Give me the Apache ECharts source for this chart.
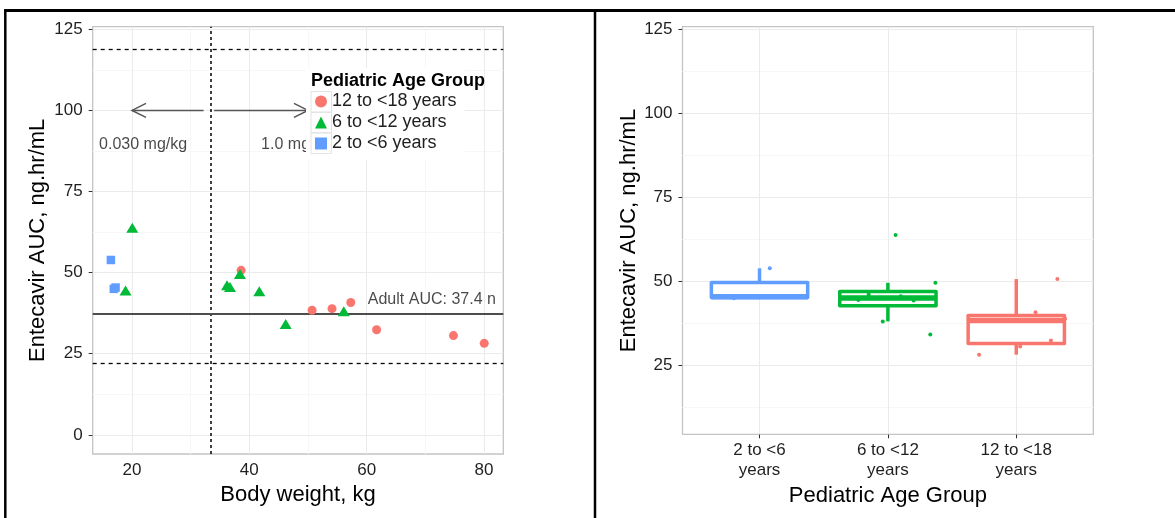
<!DOCTYPE html>
<html>
<head>
<meta charset="utf-8">
<script src="https://cdn.jsdelivr.net/npm/echarts@6/dist/echarts.min.js"></script>
<style>
  html, body { margin: 0; padding: 0; background: #fff; }
  #chart { width: 1175px; height: 518px; }
</style>
</head>
<body>
<div id="chart"></div>
<script>
// Entecavir AUC in pediatric subjects: by body weight (left) and by age group (right)

const groupNames = ['2 to <6 years', '6 to <12 years', '12 to <18 years'];
const groupAxisLabels = ['2 to <6\nyears', '6 to <12\nyears', '12 to <18\nyears'];
const groupColors = ['#619CFF', '#00BA38', '#F8766D'];
const groupSymbols = ['rect', 'triangle', 'circle'];
const legendOrder = ['12 to <18 years', '6 to <12 years', '2 to <6 years'];

// body weight (kg) and AUC (ng.hr/mL) of each subject
const weight2to6 = [16.4, 16.9, 17.2];
const auc2to6 = [53.9, 45.0, 45.4];
const weight6to12 = [20.05, 18.9, 36.2, 36.7, 38.4, 41.7, 46.2, 56.1];
const auc6to12 = [63.8, 44.5, 46.1, 45.6, 49.6, 44.3, 34.2, 38.1];
const weight12to18 = [38.6, 50.7, 54.1, 57.3, 61.7, 74.8, 80.05];
const auc12to18 = [50.7, 38.4, 38.9, 40.8, 32.4, 30.6, 28.2];

// horizontal jitter of each subject's point in the box plot panel
const jitter2to6 = [0.08, -0.2, 0.05];
const jitter6to12 = [0.06, -0.23, -0.15, 0.1, 0.37, 0.2, 0.33, -0.04];
const jitter12to18 = [0.32, -0.1, 0.38, 0.15, 0.27, 0.03, -0.29];

// reference lines and dose annotations
const adultAuc = 37.4;
const aucBounds = [22.0, 118.8];
const weightCutoff = 33.4;
const doseArrowY = 100;
const doseArrows = [[32.2, 20], [34.0, 50]];
const doseLabels = [['0.030 mg/kg', 21.9, 89.5], ['1.0 mg/kg', 48.0, 89.5]];
const adultLabel = ['Adult AUC: 37.4 ng.hr/mL', 60.2, 41.7];

// axis ticks
const weightTicks = [20, 40, 60, 80];
const aucTicksLeft = [0, 25, 50, 75, 100, 125];
const aucTicksRight = [25, 50, 75, 100, 125];
const groupTicks = [1, 2, 3];

const weights = [weight2to6, weight6to12, weight12to18];
const aucs = [auc2to6, auc6to12, auc12to18];
const jitters = [jitter2to6, jitter6to12, jitter12to18];

const FONT = '"Liberation Sans", Arial, sans-serif';
const TEXT = '#1f1f1f';
const TICK = '#333333';
const GRID_MAJOR = '#ebebeb';
const GRID_MINOR = '#f7f7f7';

const leftX = [13.3, 83.3], leftY = [-5.9, 125.8];
const rightX = [0.4, 3.6], rightY = [4.5, 125.8];

function midpoints(ticks, range) {
  const out = [];
  const step = ticks[1] - ticks[0];
  const all = [ticks[0] - step].concat(ticks, [ticks[ticks.length - 1] + step]);
  for (let i = 0; i < all.length - 1; i++) {
    const m = (all[i] + all[i + 1]) / 2;
    if (m > range[0] && m < range[1]) out.push(m);
  }
  return out;
}

function quantile(sorted, p) {
  const h = (sorted.length - 1) * p;
  const lo = Math.floor(h);
  const hi = Math.min(lo + 1, sorted.length - 1);
  return sorted[lo] + (h - lo) * (sorted[hi] - sorted[lo]);
}

function boxStats(values, pos) {
  const s = values.slice().sort((a, b) => a - b);
  const q1 = quantile(s, 0.25), med = quantile(s, 0.5), q3 = quantile(s, 0.75);
  const iqr = q3 - q1;
  const lo = Math.min(...s.filter(v => v >= q1 - 1.5 * iqr));
  const hi = Math.max(...s.filter(v => v <= q3 + 1.5 * iqr));
  return [pos, lo, q1, med, q3, hi];
}

function gridLines(xMajor, xMinor, yMajor, yMinor) {
  const d = [];
  const minor = { color: GRID_MINOR, width: 1, type: 'solid' };
  const major = { color: GRID_MAJOR, width: 1, type: 'solid' };
  xMinor.forEach(v => d.push({ xAxis: v, lineStyle: minor }));
  yMinor.forEach(v => d.push({ yAxis: v, lineStyle: minor }));
  xMajor.forEach(v => d.push({ xAxis: v, lineStyle: major }));
  yMajor.forEach(v => d.push({ yAxis: v, lineStyle: major }));
  return d;
}

function valueAxis(grid, range, ticks, extra) {
  return Object.assign({
    type: 'value', gridIndex: grid, min: range[0], max: range[1],
    axisLine: { show: false },
    axisTick: { show: true, customValues: ticks, length: 4, lineStyle: { color: TICK, width: 1 } },
    axisLabel: { customValues: ticks, fontFamily: FONT, fontSize: 17, color: TEXT },
    splitLine: { show: false },
    nameLocation: 'middle',
    nameTextStyle: { fontFamily: FONT, fontSize: 22, color: '#000' }
  }, extra);
}

const series = [];

// background grid lines
series.push({
  type: 'line', xAxisIndex: 0, yAxisIndex: 0, data: [], z: 1, silent: true,
  markLine: { silent: true, z: 1, symbol: 'none', label: { show: false }, animation: false,
    data: gridLines(weightTicks, midpoints(weightTicks, leftX), aucTicksLeft, midpoints(aucTicksLeft, leftY)) }
});
series.push({
  type: 'line', xAxisIndex: 1, yAxisIndex: 1, data: [], z: 1, silent: true,
  markLine: { silent: true, z: 1, symbol: 'none', label: { show: false }, animation: false,
    data: gridLines(groupTicks, [], aucTicksRight, midpoints(aucTicksRight, rightY)) }
});

// reference lines in the weight panel
series.push({
  type: 'line', xAxisIndex: 0, yAxisIndex: 0, data: [], z: 2, silent: true,
  markLine: { silent: true, z: 2, symbol: 'none', label: { show: false }, animation: false,
    data: [
      { yAxis: aucBounds[1], lineStyle: { color: '#000', width: 1.3, type: [4, 4] } },
      { yAxis: aucBounds[0], lineStyle: { color: '#000', width: 1.3, type: [4, 4] } },
      { xAxis: weightCutoff, lineStyle: { color: '#000', width: 1.5, type: [3, 3] } },
      { yAxis: adultAuc, lineStyle: { color: '#4d4d4d', width: 1.8, type: 'solid' } }
    ] }
});

// dose arrows
series.push({
  type: 'custom', xAxisIndex: 0, yAxisIndex: 0, silent: true, z: 2,
  data: doseArrows.map(a => [a[0], a[1], doseArrowY]),
  encode: { x: [0, 1], y: 2 },
  renderItem: function (params, api) {
    const p0 = api.coord([api.value(0), api.value(2)]);
    const p1 = api.coord([api.value(1), api.value(2)]);
    const dir = p1[0] > p0[0] ? 1 : -1;
    const len = 14, spread = 7;
    const style = { stroke: '#555', lineWidth: 1.5, fill: null };
    return { type: 'group', children: [
      { type: 'line', shape: { x1: p0[0], y1: p0[1], x2: p1[0], y2: p1[1] }, style: style },
      { type: 'polyline', shape: { points: [
        [p1[0] - dir * len, p1[1] - spread], [p1[0], p1[1]], [p1[0] - dir * len, p1[1] + spread]
      ] }, style: style }
    ] };
  }
});

// annotation text
series.push({
  type: 'scatter', xAxisIndex: 0, yAxisIndex: 0, symbolSize: 0, silent: true, z: 2,
  data: doseLabels.map(d => ({ value: [d[1], d[2]], label: { formatter: d[0] } })).concat([
    { value: [adultLabel[1], adultLabel[2]],
      label: { formatter: adultLabel[0], align: 'left', width: 137, overflow: 'truncate', ellipsis: '' } }
  ]),
  label: { show: true, position: [0, 0], align: 'center', verticalAlign: 'middle',
    fontFamily: FONT, fontSize: 16, color: '#1a1a1a' }
});

// subjects by body weight
[2, 1, 0].forEach(g => {
  series.push({
    type: 'scatter', name: groupNames[g], xAxisIndex: 0, yAxisIndex: 0, z: 3,
    symbol: groupSymbols[g],
    symbolSize: g === 0 ? 8.5 : (g === 1 ? [12, 10] : 9),
    itemStyle: { color: groupColors[g], opacity: 1 },
    data: weights[g].map((w, i) => [w, aucs[g][i]])
  });
});

// box plots by age group
series.push({
  type: 'custom', xAxisIndex: 1, yAxisIndex: 1, silent: true, z: 2,
  data: aucs.map((vals, g) => boxStats(vals, g + 1)),
  encode: { x: 0, y: [1, 2, 3, 4, 5] },
  renderItem: function (params, api) {
    const x = api.value(0);
    const lo = api.value(1), q1 = api.value(2), med = api.value(3), q3 = api.value(4), hi = api.value(5);
    const color = groupColors[params.dataIndex];
    const half = 0.375;
    const tl = api.coord([x - half, q3]);
    const br = api.coord([x + half, q1]);
    const cHi = api.coord([x, hi]), cQ3 = api.coord([x, q3]);
    const cLo = api.coord([x, lo]), cQ1 = api.coord([x, q1]);
    const mY = api.coord([x, med])[1];
    const stroke = { stroke: color, lineWidth: 3.5 };
    return { type: 'group', children: [
      { type: 'line', shape: { x1: cQ3[0], y1: cQ3[1], x2: cHi[0], y2: cHi[1] }, style: stroke },
      { type: 'line', shape: { x1: cQ1[0], y1: cQ1[1], x2: cLo[0], y2: cLo[1] }, style: stroke },
      { type: 'rect', shape: { x: tl[0], y: tl[1], width: br[0] - tl[0], height: br[1] - tl[1] },
        style: { fill: '#fff', stroke: color, lineWidth: 3.5, lineJoin: 'round' } },
      { type: 'line', shape: { x1: tl[0], y1: mY, x2: br[0], y2: mY }, style: { stroke: color, lineWidth: 5.5 } }
    ] };
  }
});

// jittered subjects over the boxes
[0, 1, 2].forEach(g => {
  series.push({
    type: 'scatter', name: 'jitter ' + groupNames[g], xAxisIndex: 1, yAxisIndex: 1, z: 3,
    symbol: 'circle', symbolSize: 4,
    itemStyle: { color: groupColors[g], opacity: 1 },
    data: aucs[g].map((v, i) => [g + 1 + jitters[g][i], v])
  });
});

// legend key frames
const keyFrames = legendOrder.map((n, i) => ({
  type: 'rect', z: 5, silent: true,
  shape: { x: 311, y: 91.5 + i * 20.7, width: 20.5, height: 20.7 },
  style: { fill: null, stroke: '#e2e2e2', lineWidth: 1 }
}));

const option = {
  animation: false,
  backgroundColor: '#fff',
  textStyle: { fontFamily: FONT },
  title: {
    text: 'Pediatric Age Group', left: 311, top: 72, padding: 0,
    textStyle: { fontFamily: FONT, fontSize: 18, fontWeight: 'bold', color: '#000' }
  },
  legend: {
    data: legendOrder.map(n => ({ name: n, icon: groupSymbols[groupNames.indexOf(n)] })),
    orient: 'vertical', left: 306, top: 68,
    padding: [23, 8, 6, 9],
    backgroundColor: '#fff',
    itemWidth: 12, itemHeight: 12, itemGap: 0,
    selectedMode: false,
    textStyle: { fontFamily: FONT, fontSize: 18, lineHeight: 21, color: TEXT }
  },
  grid: [
    { left: 92.7, top: 26.7, width: 410.6, height: 427.3, show: true,
      borderColor: '#c4c4c4', borderWidth: 1.3, backgroundColor: 'transparent' },
    { left: 682.5, top: 26.7, width: 410.8, height: 407.6, show: true,
      borderColor: '#c4c4c4', borderWidth: 1.3, backgroundColor: 'transparent' }
  ],
  xAxis: [
    valueAxis(0, leftX, weightTicks, { name: 'Body weight, kg', nameGap: 23 }),
    valueAxis(1, rightX, groupTicks, { name: 'Pediatric Age Group', nameGap: 43 })
  ],
  yAxis: [
    valueAxis(0, leftY, aucTicksLeft, { name: 'Entecavir AUC, ng.hr/mL', nameGap: 44, nameRotate: 90 }),
    valueAxis(1, rightY, aucTicksRight, { name: 'Entecavir AUC, ng.hr/mL', nameGap: 36, nameRotate: 90 })
  ],
  series: series,
  graphic: keyFrames.concat([
    { type: 'line', shape: { x1: 4, y1: 10.5, x2: 1175, y2: 10.5 }, style: { stroke: '#000', lineWidth: 3 }, z: 10 },
    { type: 'line', shape: { x1: 5.3, y1: 9, x2: 5.3, y2: 518 }, style: { stroke: '#000', lineWidth: 2.5 }, z: 10 },
    { type: 'line', shape: { x1: 595, y1: 9, x2: 595, y2: 518 }, style: { stroke: '#000', lineWidth: 2.5 }, z: 10 }
  ])
};

option.xAxis[0].axisLabel.margin = 8;
option.xAxis[1].axisLabel.margin = 6;
option.xAxis[1].axisLabel.lineHeight = 20;
option.xAxis[1].axisLabel.formatter = v => groupAxisLabels[Math.round(v) - 1];
option.yAxis[0].axisLabel.margin = 10;
option.yAxis[1].axisLabel.margin = 10;

const chart = echarts.init(document.getElementById('chart'), null, { renderer: 'canvas' });
chart.setOption(option);
</script>
</body>
</html>
